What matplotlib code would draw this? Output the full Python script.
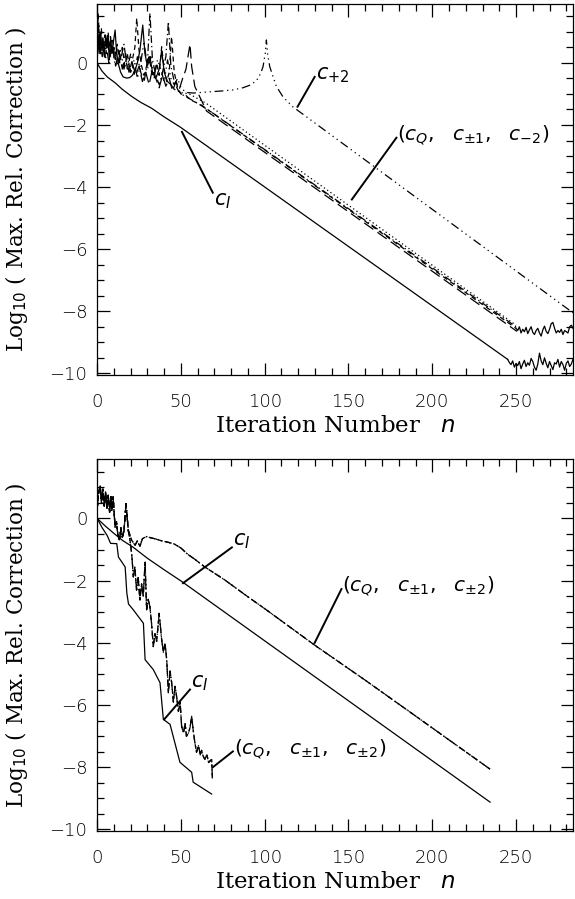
import matplotlib
matplotlib.use("Agg")
import matplotlib.pyplot as plt
from matplotlib.ticker import MultipleLocator

# ---------------- top panel data ----------------
# c_I (smooth solid) + noisy tail after convergence
ci_top_x = [0, 1, 3, 6, 10.7, 15, 20.6, 26, 32.5, 40, 49.4, 245]
ci_top_y = [0, -0.1, -0.27, -0.45, -0.64, -0.85, -1.08, -1.27, -1.46, -1.74, -2.06, -9.55]
ci_tail_x = list(range(245, 285))
ci_tail_y = [-9.55, -9.65, -9.72, -9.6, -9.8, -9.68, -9.75, -9.62, -9.85, -9.7,
             -9.58, -9.78, -9.66, -9.74, -9.52, -9.62, -9.8, -9.9, -9.7, -9.35,
             -9.6, -9.72, -9.5, -9.68, -9.82, -9.62, -9.75, -9.88, -9.66, -9.7,
             -9.55, -9.8, -9.62, -9.72, -9.9, -9.68, -9.6, -9.78, -9.7, -9.55]

# c_Q (first part looks solid, later dotted)
cq_x = [0, 0.5, 1.2, 2, 2.8, 3.5, 4.3, 5, 5.8, 6.5, 7.3, 8, 8.8, 9.5, 10.7, 11.5,
        12.5, 14, 15.5, 17.7, 19.5, 21, 22.5, 24, 25.5, 27.2, 28.5, 30, 31.5, 33,
        35, 37, 38.5, 40, 42, 44, 46, 50, 55, 65, 250]
cq_y = [0.0, 0.9, 0.3, 1.0, 0.4, 0.8, 0.2, 0.9, 0.5, 0.7, 0.1, 0.85, 0.3, 0.6, 1.06, 0.4,
        0.0, -0.3, -0.45, -0.49, -0.47, -0.4, -0.25, 0.0, 0.4, 1.22, 0.3, -0.1, 0.2, -0.3,
        -0.5, -0.2, 0.4, -0.3, -0.6, -0.7, -0.85, -0.95, -1.0, -1.3, -8.45]
cq_solid_n = 37

# c_{+-1}, dashed
cp1a_x = [0, 0.6, 1.5, 2.5, 3.5, 4.5, 5.5, 6.5, 7.5, 9, 10.5, 12, 13.5, 15, 16.5, 18,
          19.5, 21, 22.5, 23.6, 25, 26.5, 28, 29.5, 31, 32.5, 34, 35.5, 37, 38.5, 40,
          41.5, 43, 44.4, 46, 48, 50, 53, 56, 62, 250]
cp1a_y = [0.2, 1.6, 0.5, 1.1, 0.4, 0.9, 0.3, 1.0, 0.5, 0.8, 0.2, 0.6, 0.0, 0.5, -0.1, 0.3,
          -0.2, 0.1, 0.5, 1.44, 0.4, -0.1, -0.4, -0.1, 0.2, -0.3, -0.5, 0.0, -0.4, 0.52, -0.2,
          -0.6, -0.3, 0.85, -0.3, -0.8, -1.0, -1.05, -1.2, -1.35, -8.55]

# c_{+-1}, dash-dot
cp1b_x = [0, 1, 2, 3, 4.5, 6, 7.5, 9, 10.5, 12, 14, 16, 18, 20, 22, 24, 26, 28, 30,
          31.5, 33, 35, 37, 39, 41, 42.5, 44, 46, 48, 50, 55, 60, 70, 250]
cp1b_y = [0.5, 1.2, 0.4, 0.8, 0.2, 0.9, 0.3, 0.6, 0.0, 0.5, 0.1, 0.6, -0.2, 0.3, -0.4, 0.2,
          -0.3, -0.6, 0.0, 1.6, 0.1, -0.4, -0.7, -0.3, 0.2, 1.33, -0.1, -0.6, -0.85, -1.0,
          -1.15, -1.3, -1.65, -8.5]

# c_{-2}, long dashes
cm2_x = [0, 1.5, 3, 5, 7, 9, 11, 13, 15, 17, 19, 21, 23, 25, 27, 29, 31, 33, 35, 37, 39,
         41, 43, 45, 47, 49, 51, 53, 55.4, 56.4, 58.3, 61.3, 65.3, 250.6]
cm2_y = [0.4, 0.9, 0.2, 0.7, 0.0, 0.6, -0.1, 0.4, -0.2, 0.3, -0.3, 0.0, -0.4, -0.1, -0.6,
         -0.3, -0.7, -0.2, -0.5, -0.8, -0.4, -0.75, -0.5, -0.9, -0.6, -0.85, -0.5, -0.2,
         0.6, -0.12, -0.76, -1.1, -1.55, -8.65]

# c_{+2}, dash-dot-dot-dot
cp2_x = [0, 1, 2, 3.5, 5, 6.5, 8, 10, 12, 14, 16, 18, 20, 22, 24, 26, 28, 30, 32, 34, 36,
         38, 40, 42, 44, 46, 48, 50, 53, 57.4, 67.3, 75, 81, 87, 91, 95, 97.5, 99, 100.3,
         101, 101.7, 103, 105, 107, 111, 116.7, 284]
cp2_y = [0.6, 1.0, 0.3, 0.7, 0.1, 0.8, 0.2, 0.5, -0.1, 0.4, -0.2, 0.2, -0.3, 0.1, -0.5,
         0.0, 0.7, -0.2, 0.2, -0.4, 0.1, -0.2, -0.6, 0.1, -0.5, -0.7, -0.5, -0.8, -0.95,
         -0.97, -0.93, -0.9, -0.87, -0.8, -0.72, -0.58, -0.35, -0.12, 0.3, 0.74, 0.3, -0.12,
         -0.45, -0.76, -1.1, -1.41, -8.05]

# converged noise of the (c_Q, c_+-1, c_-2) group
grp_tail_x = list(range(250, 285))
grp_tail_y = [-8.55, -8.62, -8.5, -8.7, -8.58, -8.66, -8.52, -8.72, -8.6, -8.5, -8.68,
              -8.75, -8.62, -8.55, -8.7, -8.8, -8.6, -8.48, -8.65, -8.72, -8.58, -8.4,
              -8.36, -8.55, -8.7, -8.62, -8.68, -8.58, -8.75, -8.62, -8.66, -8.7, -8.5,
              -8.45, -8.55]

# ---------------- bottom panel data ----------------
ci_long_x = [0, 2, 5, 10, 15, 21.6, 30, 40, 50.6, 234.5]
ci_long_y = [0, -0.1, -0.25, -0.48, -0.7, -0.93, -1.28, -1.65, -2.03, -9.12]

ci_short_x = [0, 3, 6, 8, 11.7, 12.7, 16.7, 17.7, 18.7, 21.6, 27.6, 28.6, 33.5, 37.5,
              39.5, 43.5, 49.4, 56.4, 57.3, 68.3]
ci_short_y = [0, -0.3, -0.55, -0.8, -0.81, -1.24, -1.56, -2.4, -2.75, -2.94, -3.37, -4.54,
              -4.86, -5.28, -6.46, -6.62, -7.84, -8.16, -8.48, -8.86]

# common start of the (c_Q, c_+-1, c_+-2) curves
early_x = [0, 0.8, 1.8, 2.6, 3.4, 4.2, 5, 5.8, 6.6, 7.4, 8.2, 8.7, 9.5, 10.7, 11.5, 12.3,
           13.3, 14.2, 15, 16, 17.2]
early_y = [0.3, 0.79, 1.06, 0.5, 0.95, 0.4, 0.85, 0.3, 0.75, 0.2, 0.7, 0.26, 0.7, -0.28,
           -0.1, -0.5, -0.7, -0.3, -0.6, -0.4, 0.48]

long_x = [18.6, 20.6, 22.6, 24, 25.5, 27, 29.5, 32, 35, 38.5, 42, 46, 50, 54, 58, 64, 76,
          90, 100, 115, 130, 160, 190, 210, 234.5]
long_y = [-0.38, -0.7, -0.86, -0.72, -0.9, -0.65, -0.58, -0.62, -0.66, -0.72, -0.76, -0.82,
          -0.95, -1.15, -1.3, -1.55, -1.97, -2.52, -2.9, -3.49, -4.08, -5.2, -6.35, -7.12,
          -8.06]

short_x = [18.6, 19.6, 20.6, 21.6, 22.5, 23.5, 24.5, 25.5, 26.5, 27.5, 28.6, 29.5, 30.5,
           31.5, 32.5, 33.5, 34.5, 35.5, 37, 38.5, 39.5, 40.5, 41.5, 42.5, 43.5, 44.5, 45.5,
           46.5, 47.4, 48.5, 49.5, 50.4, 51.5, 52.5, 53.3, 54.5, 55.5, 56.4, 57.3, 58.3,
           59.3, 60.5, 61.5, 62.3, 63.3, 64.3, 65.5, 66.5, 67.3, 68.3, 68.8]
short_y = [-0.4, -0.7, -1.13, -1.88, -1.56, -2.3, -1.9, -2.62, -2.1, -2.5, -1.4, -2.94,
           -2.6, -2.84, -3.4, -4.12, -3.7, -3.95, -3.05, -3.9, -4.3, -4.0, -4.54, -5.6,
           -4.9, -5.3, -5.9, -5.4, -5.72, -6.2, -5.9, -6.68, -6.9, -6.6, -7.0, -6.9, -6.7,
           -6.36, -6.8, -7.2, -7.52, -7.3, -7.6, -7.45, -7.65, -7.74, -7.6, -7.85, -7.8,
           -7.75, -8.38]

# ---------------- styles ----------------
DOT = (0, (1, 2.2))
DASH = (0, (4, 3))
DASHDOT = (0, (6, 2.5, 1, 2.5))
DASH3DOT = (0, (7, 3, 1, 3, 1, 3, 1, 3))
LONGDASH = (0, (9, 4))
LW = 0.9

plt.rcParams['font.family'] = ['DejaVu Sans']
plt.rcParams['mathtext.fontset'] = 'dejavusans'

fig = plt.figure(figsize=(5.75, 8.99), dpi=100)
ax1 = fig.add_axes([0.169, 0.583, 0.8275, 0.4126])
ax2 = fig.add_axes([0.169, 0.0756, 0.8275, 0.4134])

GROUP_I = r'$\left(c_Q,\;\;\, c_{\pm1},\;\;\, c_{%s}\right)$'


def style_axes(ax):
    ax.set_xlim(0, 284)
    ax.set_ylim(-10.05, 1.9)
    ax.xaxis.set_major_locator(MultipleLocator(50))
    ax.xaxis.set_minor_locator(MultipleLocator(10))
    ax.yaxis.set_major_locator(MultipleLocator(2))
    ax.yaxis.set_minor_locator(MultipleLocator(0.5))
    ax.tick_params(which='both', direction='in', top=True, right=True, width=0.9,
                   labelsize=13, labelcolor='k')
    ax.tick_params(axis='x', pad=13)
    ax.tick_params(axis='y', pad=7)
    ax.tick_params(which='major', length=9)
    ax.tick_params(which='minor', length=5)
    for lab in ax.get_xticklabels() + ax.get_yticklabels():
        lab.set_fontweight('light')
    for s in ax.spines.values():
        s.set_linewidth(0.9)
    ax.set_xlabel(r'Iteration Number   $\it{n}$', family='DejaVu Serif', fontsize=16.5)
    ax.set_ylabel(r'Log$_{10}$ ( Max. Rel. Correction )', family='DejaVu Serif',
                  fontsize=15.5)
    ax.yaxis.set_label_coords(-0.142, 0.5)
    ax.xaxis.set_label_coords(0.5, -0.108)


# top panel
ax1.plot(ci_top_x, ci_top_y, color='k', lw=LW)
ax1.plot(ci_tail_x, ci_tail_y, color='k', lw=LW)
ax1.plot(cq_x[:cq_solid_n], cq_y[:cq_solid_n], color='k', lw=LW)
ax1.plot(cq_x[cq_solid_n - 1:], cq_y[cq_solid_n - 1:], color='k', lw=LW, linestyle=DOT)
ax1.plot(cp1a_x, cp1a_y, color='k', lw=LW, linestyle=DASH)
ax1.plot(cp1b_x, cp1b_y, color='k', lw=LW, linestyle=DASHDOT)
ax1.plot(cm2_x, cm2_y, color='k', lw=LW, linestyle=LONGDASH)
ax1.plot(cp2_x, cp2_y, color='k', lw=LW, linestyle=DASH3DOT)
ax1.plot(grp_tail_x, grp_tail_y, color='k', lw=LW)
style_axes(ax1)

# leader lines and labels, top
ax1.plot([50.6, 69], [-2.22, -4.18], color='k', lw=1.4)
ax1.text(70, -4.45, r'$c_I$', fontsize=15, ha='left', va='center')
ax1.plot([119.6, 129.8], [-1.41, -0.45], color='k', lw=1.4)
ax1.text(130.5, -0.38, r'$c_{+2}$', fontsize=15, ha='left', va='center')
ax1.plot([152, 178.6], [-4.4, -2.41], color='k', lw=1.4)
ax1.text(179, -2.35, GROUP_I % '-2', fontsize=14.5, ha='left', va='center')

# bottom panel
bot_long_x = early_x + long_x
bot_long_y = early_y + long_y
bot_short_x = early_x + short_x
bot_short_y = early_y + short_y
ax2.plot(ci_long_x, ci_long_y, color='k', lw=LW)
ax2.plot(ci_short_x, ci_short_y, color='k', lw=LW)
for ls in (DASH, DASHDOT, DOT):
    ax2.plot(bot_long_x, bot_long_y, color='k', lw=LW, linestyle=ls)
    ax2.plot(bot_short_x, bot_short_y, color='k', lw=LW, linestyle=ls)
style_axes(ax2)

ax2.plot([51.2, 80.4], [-2.08, -0.93], color='k', lw=1.4)
ax2.text(81, -0.72, r'$c_I$', fontsize=15, ha='left', va='center')
ax2.plot([40, 55.4], [-6.46, -5.5], color='k', lw=1.4)
ax2.text(56, -5.3, r'$c_I$', fontsize=15, ha='left', va='center')
ax2.plot([129.8, 145.8], [-4.0, -2.27], color='k', lw=1.4)
ax2.text(146.3, -2.2, GROUP_I % r'\pm2', fontsize=14.5, ha='left', va='center')
ax2.plot([69, 81], [-8.0, -7.49], color='k', lw=1.4)
ax2.text(81.5, -7.42, GROUP_I % r'\pm2', fontsize=14.5, ha='left', va='center')

fig.savefig('out.png', dpi=100)
